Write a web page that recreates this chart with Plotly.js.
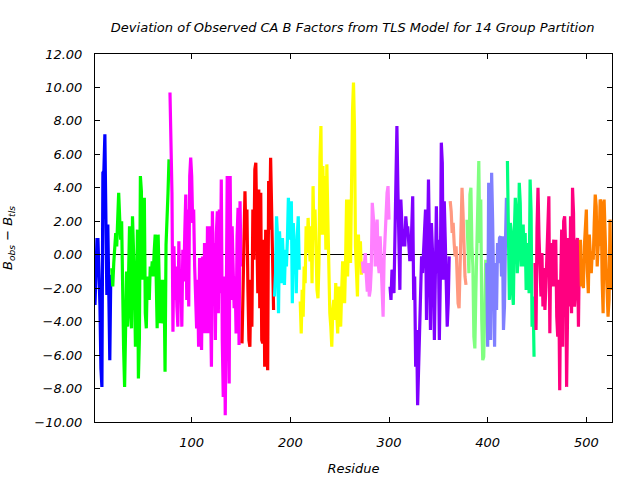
<!DOCTYPE html>
<html>
<head>
<meta charset="utf-8">
<script src="https://cdn.plot.ly/plotly-3.0.1.min.js"></script>
<style>html,body{margin:0;padding:0;background:#fff;}#chart{width:640px;height:480px;}</style>
</head>
<body>
<div id="chart"></div>
<script>
// First residue number of each TLS group
const groupStarts = [2, 19, 78, 151, 184, 210, 273, 301, 362, 379, 399, 420, 448, 494];
const groupColors = ["#0000ff","#00ff00","#ff00ff","#ff0000","#00ffff","#ffff00","#ff80ff","#8000ff","#ff9980","#80ff80","#8080ff","#00ff80","#ff0080","#ff8000"];

// B_obs - B_tls per residue, per group
const g01 = [-3.0,-1.0,0.9,0.9,-0.5,-3.0,-6.8,-7.9,4.9,5.0,7.2,2.0,-2.4,1.8,-2.5,-6.3,-1.2];
const g02 = [-0.8,-1.9,-0.5,1.0,1.3,0.5,3.0,3.7,2.2,0.9,2.0,-2.7,-5.6,-7.9,-4.6,-1.0,-4.3,-1.3,1.7,-3.3,-4.4,2.3,0.5,-1.6,-5.5,-3.8,1.5,-7.4,-5.0,4.7,3.8,-1.5,2.0,3.4,-3.5,-4.4,-1.3,-1.9,-2.7,-0.7,-1.2,-0.4,-1.3,0.2,1.2,-1.3,-4.4,1.2,-1.3,-4.1,-1.5,-3.0,-4.1,-1.5,-7.0,0.6,1.8,3.7,5.7];
const g03 = [9.7,6.9,3.7,-4.6,0.5,-2.7,-0.7,-3.1,-4.3,0.8,-2.7,-1.0,-4.3,0.3,-1.6,1.3,3.6,-2.7,2.7,-3.1,4.7,5.8,4.7,1.9,2.7,-0.7,-3.1,-4.4,-1.5,-5.5,-0.2,-1.5,-5.7,-0.1,-4.7,0.7,-0.7,-4.7,1.7,-4.7,1.7,-3.5,-6.7,2.6,-1.1,0.7,-5.1,1.3,2.6,-3.5,2.7,-2.3,4.5,-5.1,-8.5,-1.3,-9.6,-3.5,4.7,-0.7,-7.7,4.7,-2.7,1.7,-1.3,-3.2,-1.3,-4.7,1.1,2.8,-5.4,3.2,-0.7];
const g04 = [-5.3,-1.5,0.7,3.8,0.9,2.7,-2.1,-5.1,-5.5,-1.5,-4.3,2.7,-0.3,5.1,5.5,-0.7,-2.3,3.9,-3.2,3.7,-5.1,-5.3,0.9,-6.7,1.5,-5.1,-6.9,4.4,1.5,5.8,2.7,-1.9,-3.3];
const g05 = [-2.5,-1.1,2.3,1.1,-3.5,1.4,0.1,-1.7,1.0,-1.1,-1.8,0.3,-0.7,0.9,3.4,2.1,0.9,3.2,-2.9,1.9,0.5,0.9,-2.3,1.1,2.3,-0.9];
const g06 = [-2.8,-4.7,-2.1,-3.7,-0.7,-1.7,1.7,0.1,2.2,0.9,-0.4,1.7,-1.7,4.1,0.9,2.7,-0.7,-2.1,-2.6,-0.5,5.8,7.7,1.2,5.3,1.2,4.7,0.3,5.4,2.1,-2.3,-3.5,-4.3,-5.5,-3.3,-2.7,-3.9,-1.7,-3.5,-4.7,-1.9,-3.5,-4.3,-2.2,-0.4,-1.7,-2.9,-0.3,3.3,-1.3,2.5,3.3,-0.5,6.7,8.6,10.3,7.6,0.5,-1.5,-2.5,1.2,-0.6,0.8,-1.2];
const g07 = [-0.4,-1.1,-0.6,0.1,-1.3,-2.2,-0.5,-2.5,-2.1,-0.9,3.1,2.4,1.6,-0.7,1.3,2.1,-0.5,-1.1,1.1,-0.9,-3.1,-3.7,-0.3,0.9,2.7,3.7,4.1,2.1];
const g08 = [-1.9,-2.7,-0.9,-1.1,-2.3,0.5,5.1,7.7,3.9,-0.9,-2.1,3.3,1.3,0.5,1.5,0.5,2.3,1.5,1.7,0.7,-0.3,-0.3,2.7,3.5,-2.7,-1.3,-6.7,-4.5,-9.0,-6.9,-4.5,-2.7,-0.1,-1.1,0.1,1.9,2.7,-3.9,1.5,4.5,0.5,-4.5,1.9,0.5,-1.3,-5.1,-1.5,2.9,-1.1,0.9,-5.1,-1.5,6.7,5.5,-1.5,3.2,0.9,-1.3,-4.3,-2.9,-0.1];
const g09 = [3.2,2.6,1.3,1.9,0.7,-0.1,0.5,-1.6,-2.9,-3.2,-0.1,3.1,4.0,2.5,0.5,-1.3,-1.8];
const g10 = [2.1,0.7,-1.1,3.6,4.0,0.5,-0.7,-4.9,-5.6,-2.3,0.2,4.1,5.6,0.7,3.3,-3.9,-6.3,-6.1,-1.7,-0.3];
const g11 = [-0.5,-5.5,4.3,2.9,-5.1,4.9,2.1,-3.7,-5.5,-0.5,-3.3,0.7,-0.5,1.0,1.1,-1.3,1.1,-4.5,-3.1,0.7,3.4];
const g12 = [5.6,1.6,-2.7,1.9,1.3,-2.1,-3.0,1.3,3.4,2.5,-1.1,0.1,4.3,3.1,-0.7,0.5,1.8,-0.7,1.3,-2.1,0.7,-0.1,-2.3,4.5,2.6,-4.3,-2.5,-6.1];
const g13 = [-0.5,-4.5,1.6,4.0,1.1,-0.5,-2.5,0.1,-3.1,-0.8,-3.3,-1.9,-0.3,1.5,3.5,-4.7,0.7,-1.9,-0.9,0.9,-1.9,0.9,-3.7,-4.9,-1.5,-8.1,-1.7,1.5,-5.5,2.0,2.3,0.5,-7.9,-1.9,1.0,-3.1,2.3,-3.5,4.0,2.5,-3.1,-2.2,0.7,1.0,-4.3,0.5];
const g14 = [0.9,-1.9,-0.5,-2.0,0.5,2.1,2.7,-0.9,-2.3,1.2,0.3,-1.1,0.2,-0.3,1.9,3.6,2.9,-0.7,0.5,0.7,3.3,3.1,-1.5,-3.5,3.3,0.5,-0.7,-2.1,-3.7,-2.7,2.1,-2.1,-1.3];

const yTickVals = [-10,-8,-6,-4,-2,0,2,4,6,8,10,12];
const xTickVals = [100,200,300,400,500];

const groups = [g01,g02,g03,g04,g05,g06,g07,g08,g09,g10,g11,g12,g13,g14];
const traces = groups.map((vals, i) => ({
  type: 'scatter',
  mode: 'lines',
  x: vals.map((_, k) => groupStarts[i] + k),
  y: vals,
  line: {color: groupColors[i], width: 3.2},
  hoverinfo: 'skip',
  showlegend: false
}));

const fnt = {family: 'DejaVu Sans, sans-serif', size: 13, color: '#000'};
const layout = {
  width: 640, height: 480,
  margin: {l: 95, r: 28, t: 54, b: 58},
  paper_bgcolor: '#fff', plot_bgcolor: '#fff',
  showlegend: false,
  title: {text: '<i>Deviation of Observed CA B Factors from TLS Model for 14 Group Partition</i>',
          font: {family: 'DejaVu Sans, sans-serif', size: 13, color: '#000'},
          x: 0.551, xanchor: 'center', y: 0.943, yanchor: 'middle'},
  xaxis: {
    range: [2, 526], tickvals: xTickVals, ticktext: xTickVals.map(v => '<i>' + v + '</i>'),
    ticks: 'inside', ticklen: 5, tickcolor: '#000', tickwidth: 1,
    showline: true, linecolor: '#000', linewidth: 1, mirror: 'ticks',
    showgrid: false, zeroline: false,
    tickfont: fnt, ticklabelstandoff: 8,
    title: {text: '<i>Residue</i>', font: fnt, standoff: 15}
  },
  yaxis: {
    range: [-10, 12], tickvals: yTickVals, ticktext: yTickVals.map(v => '<i>' + v.toFixed(2).replace('-', '\u2212') + '</i>'),
    ticks: 'inside', ticklen: 5, tickcolor: '#000', tickwidth: 1,
    showline: true, linecolor: '#000', linewidth: 1, mirror: 'ticks',
    showgrid: false, zeroline: true, zerolinecolor: '#000', zerolinewidth: 1,
    tickfont: fnt, ticklabelstandoff: 9,
    title: {text: '<i>B<sub>obs</sub> \u2212 B<sub>tls</sub></i>', font: fnt, standoff: 19}
  }
};

Plotly.newPlot('chart', traces, layout, {staticPlot: true, displayModeBar: false});
</script>
</body>
</html>
